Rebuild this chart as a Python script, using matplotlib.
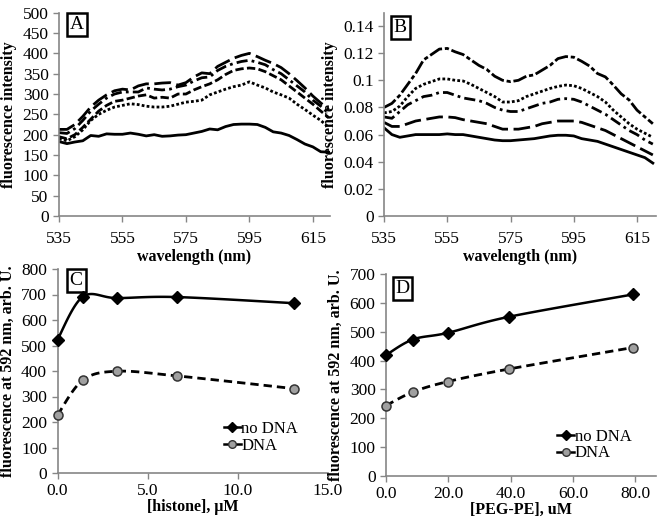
import matplotlib
matplotlib.use("Agg")
import matplotlib.pyplot as plt
import numpy as np

plt.rcParams['font.family'] = ['Liberation Serif', 'DejaVu Serif']

# ---- spectra (panels A and B) ----
wl = np.arange(535, 620.1, 2.5)

a_solid = [183, 178, 182, 185, 198, 196, 202, 201, 201, 204, 201, 197, 200, 196, 197, 199, 200, 204,
           208, 214, 212, 220, 225, 226, 226, 225, 218, 207, 204, 198, 188, 177, 170, 158, 157]
a_dot = [190, 185, 195, 212, 235, 250, 260, 268, 272, 276, 274, 270, 268, 268, 270, 275, 280, 282,
         285, 298, 305, 312, 318, 322, 330, 322, 315, 305, 298, 290, 275, 262, 248, 235, 218]
a_dash = [195, 190, 200, 218, 238, 258, 272, 282, 285, 290, 295, 298, 290, 292, 290, 300, 300, 310,
          318, 325, 335, 348, 358, 362, 364, 362, 355, 345, 335, 320, 305, 290, 275, 258, 242]
a_dashdot = [205, 203, 215, 235, 258, 275, 290, 300, 305, 305, 305, 315, 312, 310, 312, 318, 322, 332,
             340, 342, 358, 368, 375, 380, 383, 378, 372, 360, 350, 335, 320, 305, 285, 270, 252]
a_longdash = [213, 213, 225, 245, 268, 285, 298, 308, 312, 310, 320, 325, 325, 327, 328, 322, 328, 342,
              352, 350, 368, 378, 388, 395, 400, 392, 383, 375, 365, 350, 333, 315, 295, 278, 262]

b_solid = [0.065, 0.060, 0.058, 0.059, 0.060, 0.060, 0.060, 0.060, 0.0605, 0.060, 0.060, 0.059, 0.058,
           0.057, 0.056, 0.0555, 0.0555, 0.056, 0.0565, 0.057, 0.058, 0.059, 0.0595, 0.0595, 0.059,
           0.057, 0.056, 0.055, 0.053, 0.051, 0.049, 0.047, 0.045, 0.043, 0.039]
b_dash = [0.069, 0.066, 0.066, 0.068, 0.070, 0.071, 0.072, 0.073, 0.073, 0.0725, 0.071, 0.070, 0.069,
          0.068, 0.066, 0.064, 0.064, 0.064, 0.065, 0.066, 0.068, 0.069, 0.070, 0.070, 0.070, 0.069,
          0.067, 0.065, 0.063, 0.060, 0.057, 0.054, 0.051, 0.048, 0.045]
b_dashdot = [0.073, 0.072, 0.077, 0.082, 0.085, 0.088, 0.089, 0.091, 0.091, 0.089, 0.087, 0.086, 0.085,
             0.083, 0.080, 0.078, 0.077, 0.077, 0.079, 0.081, 0.083, 0.084, 0.086, 0.0865, 0.086,
             0.084, 0.081, 0.078, 0.075, 0.071, 0.067, 0.063, 0.060, 0.056, 0.053]
b_dot = [0.076, 0.077, 0.081, 0.088, 0.094, 0.097, 0.099, 0.101, 0.101, 0.100, 0.0995, 0.097, 0.094,
         0.091, 0.088, 0.084, 0.084, 0.085, 0.088, 0.090, 0.092, 0.094, 0.0955, 0.0965, 0.096, 0.094,
         0.091, 0.088, 0.084, 0.078, 0.073, 0.068, 0.064, 0.061, 0.058]
b_longdashdot = [0.080, 0.083, 0.089, 0.097, 0.105, 0.115, 0.119, 0.123, 0.1235, 0.121, 0.119, 0.115,
                 0.111, 0.108, 0.103, 0.100, 0.099, 0.100, 0.103, 0.104, 0.1075, 0.111, 0.116, 0.1175,
                 0.117, 0.114, 0.1105, 0.105, 0.1025, 0.0965, 0.090, 0.0855, 0.078, 0.073, 0.068]

# ---- titration (panels C and D) ----
histone = [0, 1.4, 3.3, 6.6, 13.1]
c_nodna = [523, 691, 686, 690, 666]
c_dna = [227, 364, 399, 381, 331]

pegpe = [0, 8.6, 19.8, 39.6, 79.2]
d_nodna = [419, 473, 496, 552, 629]
d_dna = [244, 291, 327, 371, 445]

GRAY = '#868686'
W, H = 662, 529


def smooth(x, y, n=30):
    # Excel-like smoothed line (Bezier through points)
    x = np.asarray(x, float); y = np.asarray(y, float)
    px = np.concatenate([[x[0]], x, [x[-1]]])
    py = np.concatenate([[y[0]], y, [y[-1]]])
    xs, ys = [], []
    t = np.linspace(0, 1, n)
    for i in range(1, len(px) - 2):
        p0 = np.array([px[i], py[i]]); p3 = np.array([px[i + 1], py[i + 1]])
        p1 = p0 + (np.array([px[i + 1], py[i + 1]]) - np.array([px[i - 1], py[i - 1]])) / 6
        p2 = p3 - (np.array([px[i + 2], py[i + 2]]) - np.array([px[i], py[i]])) / 6
        b = ((1 - t) ** 3)[:, None] * p0 + (3 * (1 - t) ** 2 * t)[:, None] * p1 \
            + (3 * (1 - t) * t ** 2)[:, None] * p2 + (t ** 3)[:, None] * p3
        xs.extend(b[:, 0]); ys.extend(b[:, 1])
    return xs, ys


def make_ax(fig, left, top, right, bottom):
    ax = fig.add_axes([left / W, 1 - bottom / H, (right - left) / W, (bottom - top) / H])
    for s in ['top', 'right']:
        ax.spines[s].set_visible(False)
    for s in ['left', 'bottom']:
        ax.spines[s].set_color(GRAY)
        ax.spines[s].set_linewidth(1.2)
    ax.tick_params(direction='out', length=4, color=GRAY, labelsize=12.5, width=1)
    return ax


def panel_label(ax, txt, x, y):
    ax.text(x, y, txt, transform=ax.transAxes, fontsize=14, ha='left', va='top',
            bbox=dict(boxstyle='square,pad=0.15', fc='white', ec='black', lw=1.8))


fig = plt.figure(figsize=(W / 100, H / 100), dpi=100)

# A
ax = make_ax(fig, 59, 12.7, 330, 216)
lw = 2.0
ax.plot(wl, a_solid, color='black', lw=lw, ls='-')
ax.plot(wl, a_dot, color='black', lw=lw, ls=(0, (1, 0.8)))
ax.plot(wl, a_dash, color='black', lw=lw, ls=(0, (3, 1.2)))
ax.plot(wl, a_dashdot, color='black', lw=lw, ls=(0, (4, 1.5, 1, 1.5)))
ax.plot(wl, a_longdash, color='black', lw=lw, ls=(0, (6, 2)))
ax.set_xlim(535, 620.4)
ax.set_ylim(0, 500)
ax.set_xticks([535, 555, 575, 595, 615])
ax.set_yticks(range(0, 501, 50))
ax.set_xlabel('wavelength (nm)', fontsize=11.5, fontweight='bold', labelpad=1)
ax.set_ylabel('fluorescence intensity', fontsize=11.5, fontweight='bold', labelpad=4)
ax.tick_params(axis='x', pad=7)
panel_label(ax, 'A', 0.04, 0.985)

# B
ax = make_ax(fig, 384, 13, 656, 216)
ax.plot(wl, b_solid, color='black', lw=lw, ls='-')
ax.plot(wl, b_dash, color='black', lw=lw, ls=(0, (6, 2)))
ax.plot(wl, b_dashdot, color='black', lw=lw, ls=(0, (4, 1.5, 1, 1.5)))
ax.plot(wl, b_dot, color='black', lw=lw, ls=(0, (1, 0.8)))
ax.plot(wl, b_longdashdot, color='black', lw=lw, ls=(0, (5, 1, 1.5, 1)))
ax.set_xlim(535, 621)
ax.set_ylim(0, 0.1496)
ax.set_xticks([535, 555, 575, 595, 615])
ax.set_yticks([0, 0.02, 0.04, 0.06, 0.08, 0.1, 0.12, 0.14])
ax.set_yticklabels(['0', '0.02', '0.04', '0.06', '0.08', '0.1', '0.12', '0.14'])
ax.set_xlabel('wavelength (nm)', fontsize=11.5, fontweight='bold', labelpad=1)
ax.set_ylabel('fluorescence intensity', fontsize=11.5, fontweight='bold', labelpad=4)
ax.tick_params(axis='x', pad=7)
panel_label(ax, 'B', 0.035, 0.97)


def titration(ax, x, y1, y2):
    sx, sy = smooth(x, y1)
    ax.plot(sx, sy, color='black', lw=1.8)
    ax.plot(x, y1, ls='none', marker='D', ms=6, color='black', clip_on=False, zorder=4)
    sx, sy = smooth(x, y2)
    ax.plot(sx, sy, color='black', lw=2, ls=(0, (3, 1.8)))
    ax.plot(x, y2, ls='none', marker='o', ms=6.5, mfc='#a0a0a0', mec='#333333', mew=1.1,
            clip_on=False, zorder=4)
    h1, = ax.plot([], [], color='black', lw=1.8, marker='D', ms=5)
    h2, = ax.plot([], [], color='black', lw=1.8, marker='o', ms=5.5,
                  mfc='#a0a0a0', mec='#333333')
    return h1, h2


LEG = dict(loc='upper left', frameon=False, fontsize=12, handlelength=1.0, handletextpad=0.05,
           labelspacing=0.05, borderpad=0, borderaxespad=0)

# C
ax = make_ax(fig, 57.5, 269, 328, 473)
h1, h2 = titration(ax, histone, c_nodna, c_dna)
ax.set_xlim(0, 15)
ax.set_ylim(0, 800)
ax.set_xticks([0, 5, 10, 15])
ax.set_xticklabels(['0.0', '5.0', '10.0', '15.0'])
ax.set_yticks(range(0, 801, 100))
ax.set_xlabel('[histone], \u03bcM', fontsize=11.5, fontweight='bold', labelpad=0)
ax.set_ylabel('fluorescence at 592 nm, arb. U.', fontsize=11.5, fontweight='bold', labelpad=4)
ax.tick_params(axis='x', pad=3)
ax.legend([h1, h2], ['no DNA', 'DNA'], bbox_to_anchor=(0.615, 0.255), **LEG)
panel_label(ax, 'C', 0.045, 0.985)

# D
ax = make_ax(fig, 386, 274, 656, 476)
h1, h2 = titration(ax, pegpe, d_nodna, d_dna)
ax.set_xlim(0, 86.7)
ax.set_ylim(0, 700)
ax.set_xticks([0, 20, 40, 60, 80])
ax.set_xticklabels(['0.0', '20.0', '40.0', '60.0', '80.0'])
ax.set_yticks(range(0, 701, 100))
ax.set_xlabel('[PEG-PE], uM', fontsize=11.5, fontweight='bold', labelpad=0)
ax.set_ylabel('fluorescence at 592 nm, arb. U.', fontsize=11.5, fontweight='bold', labelpad=4)
ax.tick_params(axis='x', pad=3)
ax.legend([h1, h2], ['no DNA', 'DNA'], bbox_to_anchor=(0.635, 0.235), **LEG)
panel_label(ax, 'D', 0.035, 0.97)

fig.savefig('out.png', dpi=100)
